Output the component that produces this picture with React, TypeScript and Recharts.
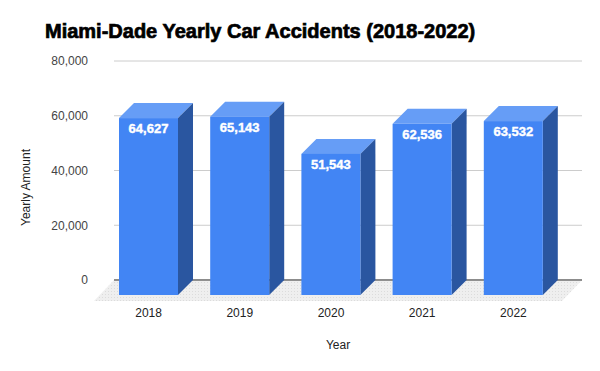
import { BarChart, Bar, XAxis, YAxis, CartesianGrid, LabelList, Label, usePlotArea } from "recharts"

const years = ["2018", "2019", "2020", "2021", "2022"]
const accidents = [64627, 65143, 51543, 62536, 63532]
const yTicks = [0, 20000, 40000, 60000, 80000]

const data = years.map((year, i) => ({ year, accidents: accidents[i] }))

const DEPTH = 15
const FONT = "'Liberation Sans', Arial, sans-serif"

// floor under the bars plus the dark zero line, drawn before the bars
function Floor() {
  const area = usePlotArea()
  if (!area) return null
  const bottom = area.y + area.height
  const left = area.x
  const right = area.x + area.width
  return (
    <g>
      <defs>
        <pattern id="floorDots" width="3" height="3" patternUnits="userSpaceOnUse">
          <rect width="3" height="3" fill="#efefef" />
          <rect width="1" height="1" fill="#dcdcdc" />
        </pattern>
      </defs>
      <polygon
        points={`${left},${bottom} ${right},${bottom} ${right - 20},${bottom + 21} ${left - 20},${bottom + 21}`}
        fill="url(#floorDots)"
      />
      <line x1={left} y1={bottom} x2={right} y2={bottom} stroke="#333" strokeWidth={1} />
    </g>
  )
}

function Box(props: any) {
  const { x, y, width, height } = props
  const fx = x - DEPTH
  const fy = y + DEPTH
  return (
    <g>
      <polygon
        points={`${fx},${fy} ${x},${y} ${x + width},${y} ${fx + width},${fy}`}
        fill="#669df6"
      />
      <polygon
        points={`${fx + width},${fy} ${x + width},${y} ${x + width},${y + height} ${fx + width},${fy + height}`}
        fill="#2a56a0"
      />
      <rect x={fx} y={fy} width={width} height={height} fill="#4285f4" />
    </g>
  )
}

function ValueLabel(props: any) {
  const { x, y, width, value } = props
  return (
    <text
      x={x - DEPTH + width / 2}
      y={y + DEPTH + 15}
      textAnchor="middle"
      fill="#fff"
      stroke="#fff"
      strokeWidth={0.4}
      fontFamily={FONT}
      fontWeight="bold"
      fontSize={13}
    >
      {Number(value).toLocaleString("en-US")}
    </text>
  )
}

function YearTick(props: any) {
  const { x, y, payload } = props
  return (
    <text x={x - DEPTH} y={y} textAnchor="middle" fill="#222" fontFamily={FONT} fontSize={12}>
      {payload.value}
    </text>
  )
}

export default function App() {
  return (
    <div style={{ position: "absolute", left: 0, top: 0, width: 600, height: 371, background: "#fff" }}>
      <svg width={600} height={50} style={{ position: "absolute", left: 0, top: 0 }}>
        <text
          x={45}
          y={38}
          fontFamily={FONT}
          fontWeight="bold"
          fontSize={20}
          fill="#000"
          stroke="#000"
          strokeWidth={0.7}
        >
          Miami-Dade Yearly Car Accidents (2018-2022)
        </text>
      </svg>
      <div style={{ position: "absolute", left: 0, top: 0 }}>
        <BarChart
          width={600}
          height={371}
          data={data}
          margin={{ top: 61, right: 18, bottom: 0, left: 0 }}
          barSize={59}
        >
          <CartesianGrid vertical={false} stroke="#cccccc" />
          <Floor />
          <XAxis
            dataKey="year"
            height={91}
            padding={{ left: 4, right: 8 }}
            axisLine={false}
            tickLine={false}
            tickSize={0}
            tickMargin={37}
            tick={<YearTick />}
          >
            <Label
              content={(p: any) => {
                const vb = p.viewBox
                return (
                  <text
                    x={vb.x + vb.width / 2 - 10}
                    y={vb.y + 69}
                    textAnchor="middle"
                    fill="#222"
                    fontFamily={FONT}
                    fontSize={12}
                  >
                    Year
                  </text>
                )
              }}
            />
          </XAxis>
          <YAxis
            width={114}
            domain={[0, 80000]}
            ticks={yTicks}
            axisLine={false}
            tickLine={false}
            tickSize={0}
            tickMargin={26}
            tick={{ fill: "#444", fontSize: 12, fontFamily: FONT }}
            tickFormatter={(v) => v.toLocaleString("en-US")}
          >
            <Label
              content={(p: any) => {
                const vb = p.viewBox
                const cx = 26
                const cy = vb.y + vb.height / 2 + 17
                return (
                  <text
                    x={cx}
                    y={cy}
                    transform={`rotate(-90 ${cx} ${cy})`}
                    textAnchor="middle"
                    dominantBaseline="central"
                    fill="#222"
                    fontFamily={FONT}
                    fontSize={12}
                  >
                    Yearly Amount
                  </text>
                )
              }}
            />
          </YAxis>
          <Bar dataKey="accidents" shape={<Box />} isAnimationActive={false}>
            <LabelList dataKey="accidents" content={<ValueLabel />} />
          </Bar>
        </BarChart>
      </div>
    </div>
  )
}
